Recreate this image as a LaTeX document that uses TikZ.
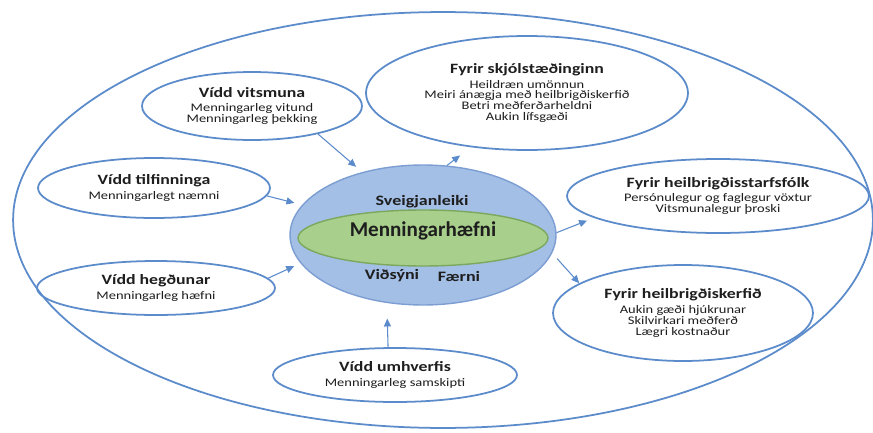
\documentclass[tikz,border=0pt]{standalone}
\usepackage{fontspec}
\setmainfont{Carlito}
\newfontfamily\widefont{Carlito}[FakeStretch=1.25]
\usetikzlibrary{shapes.geometric,arrows.meta}
\definecolor{ringline}{HTML}{5B8BCB}
\definecolor{corefill}{HTML}{A3BFE6}
\definecolor{coreline}{HTML}{7D9ED3}
\definecolor{hubfill}{HTML}{A9CF8C}
\definecolor{hubline}{HTML}{7BA85C}
\definecolor{arrowcol}{HTML}{5B8BCB}
\definecolor{textpri}{HTML}{1E1E1E}
\newcommand{\btitle}[1]{{\fontsize{8.1}{8}\selectfont\bfseries #1}\\[2.2pt]}
\newcommand{\bodyfont}{\widefont\fontsize{6.6}{6.2}\selectfont
  \setlength{\lineskip}{0pt}\setlength{\lineskiplimit}{-3pt}}
\tikzset{
  ring/.style={ellipse, draw=ringline, line width=1pt, inner sep=0pt},
  bubble/.style={ellipse, draw=ringline, line width=1pt, inner sep=0pt,
                 align=center, text=textpri, font=\bodyfont},
  corelbl/.style={font=\widefont\fontsize{8.2}{9}\selectfont\bfseries, text=textpri, inner sep=0pt},
  flow/.style={draw=arrowcol, line width=0.6pt, -{Triangle[length=4.5pt,width=4pt]}},
}

\begin{document}
\begin{tikzpicture}[x=0.02cm, y=-0.02cm]
  % --- frame ---
  \fill[white] (0,0) rectangle (873,433);
  \useasboundingbox (0,0) rectangle (873,433);

  % --- outer ring ---
  \node[ring, minimum width=17.2cm, minimum height=8.32cm] (outer) at (443,220) {};

  % --- core ---
  \node[ellipse, draw=coreline, fill=corefill, line width=0.8pt,
        minimum width=5.32cm, minimum height=2.8cm] (core) at (423,235) {};
  \node[ellipse, draw=hubline, fill=hubfill, line width=0.8pt,
        minimum width=5.0cm, minimum height=1.12cm] (hub) at (423,238) {};
  \node[corelbl] (flex) at (422,202) {Sveigjanleiki};
  \node[corelbl, font=\fontsize{12}{13}\selectfont\bfseries] (mh) at (423,231) {Menningarhæfni};
  \node[corelbl] (open) at (392,276) {Viðsýni};
  \node[corelbl] (skill) at (459,276) {Færni};

  % --- dimensions (left / bottom) ---
  \node[bubble, minimum width=4.4cm, minimum height=1.36cm] (vits) at (252,106)
    {\btitle{Vídd vitsmuna}Menningarleg vitund\\Menningarleg þekking};
  \node[bubble, minimum width=4.64cm, minimum height=1.2cm] (tilf) at (154,188)
    {\btitle{Vídd tilfinninga}Menningarlegt næmni};
  \node[bubble, minimum width=4.76cm, minimum height=1.08cm] (hegd) at (156,288)
    {\btitle{Vídd hegðunar}Menningarleg hæfni};
  \node[bubble, minimum width=4.88cm, minimum height=1.08cm] (umhv) at (395,375)
    {\btitle{Vídd umhverfis}Menningarleg samskipti};

  % --- outcomes (right / top) ---
  \node[bubble, minimum width=6.44cm, minimum height=2.28cm] (skjol) at (527,93)
    {\btitle{Fyrir skjólstæðinginn}Heildræn umönnun\\Meiri ánægja með heilbrigðiskerfið\\Betri meðferðarheldni\\Aukin lífsgæði};
  \node[bubble, minimum width=6.04cm, minimum height=1.48cm] (starf) at (718,196)
    {\btitle{Fyrir heilbrigðisstarfsfólk}Persónulegur og faglegur vöxtur\\Vitsmunalegur þroski};
  \node[bubble, minimum width=5.2cm, minimum height=1.92cm] (kerf) at (683,313)
    {\btitle{Fyrir heilbrigðiskerfið}Aukin gæði hjúkrunar\\Skilvirkari meðferð\\Lægri kostnaður};

  % --- arrows ---
  \draw[flow, shorten >=0.16cm] (vits.-23) -- (core.134.5);
  \draw[flow, shorten >=0.16cm] (tilf.-4.6) -- (core.166);
  \draw[flow, shorten >=0.14cm] (hegd.5) -- (core.193.8);
  \draw[flow, shorten >=0.31cm] (umhv.104.5) -- (core.242.3);
  \draw[flow, shorten >=0.27cm] (core.71.8) -- (skjol.224);
  \draw[flow, shorten >=0.15cm] (core.1.3) -- (starf.190);
  \draw[flow, shorten <=0.15cm] (core.-8.6) -- (kerf.164.5);
\end{tikzpicture}
\end{document}
